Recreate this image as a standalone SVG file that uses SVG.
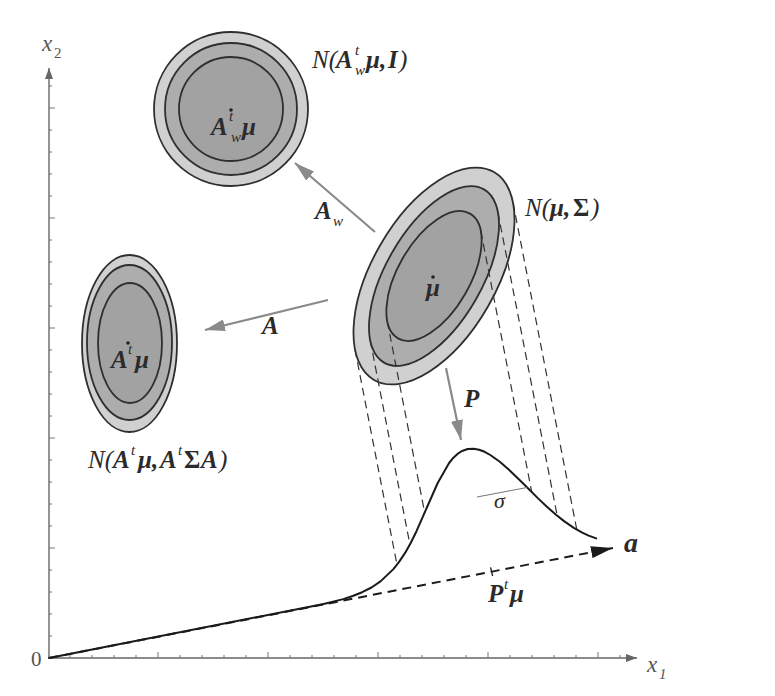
<svg xmlns="http://www.w3.org/2000/svg" width="775" height="696" viewBox="0 0 775 696">
<defs>
<style>
.ax{stroke:#666;stroke-width:1.4;fill:none}
.tk{stroke:#777;stroke-width:1}
.ring{stroke:#2f2f2f;stroke-width:1.8}
.c1{fill:#d0d0d0}.c2{fill:#adadad}.c3{fill:#a2a2a2}
.proj{stroke:#333;stroke-width:1.2;stroke-dasharray:8 5;fill:none}
.garrow{stroke:#8a8a8a;stroke-width:2.2;fill:none}
.t{font-family:"Liberation Serif","Times New Roman",serif;fill:#2b2b2b;font-size:25px}
.i{font-style:italic}
.bi{font-style:italic;font-weight:bold}
.b{font-weight:bold}
.s{font-size:15px;font-style:italic}
.axl{font-family:"Liberation Serif","Times New Roman",serif;fill:#555;font-style:italic;font-size:23px}
.dot{fill:#222}
</style>
<marker id="gh" markerWidth="20" markerHeight="12" refX="20" refY="6" orient="auto" markerUnits="userSpaceOnUse"><path d="M0,0 L20,6 L0,12 z" fill="#8a8a8a"/></marker>
<marker id="kh" markerWidth="22" markerHeight="12" refX="22" refY="6" orient="auto" markerUnits="userSpaceOnUse"><path d="M0,0 L22,6 L0,12 z" fill="#1a1a1a"/></marker>
<marker id="ah" markerWidth="11" markerHeight="8" refX="11" refY="4" orient="auto" markerUnits="userSpaceOnUse"><path d="M0,0 L11,4 L0,8 z" fill="#666"/></marker>
</defs>
<rect width="775" height="696" fill="#ffffff"/>

<g id="axes">
<line class="ax" x1="49" y1="658" x2="49" y2="68" marker-end="url(#ah)"/>
<line class="ax" x1="49" y1="658" x2="637" y2="658" marker-end="url(#ah)"/>
<path class="tk" d="M49,636h3M49,614h3M49,592h3M49,570h3M49,548h6M49,526h3M49,504h3M49,482h3M49,460h3M49,438h6M49,416h3M49,394h3M49,372h3M49,350h3M49,328h6M49,306h3M49,284h3M49,262h3M49,240h3M49,218h6M49,196h3M49,174h3M49,152h3M49,130h3M49,108h6M49,86h3"/>
<path class="tk" d="M70,658v-3M92,658v-3M114,658v-3M136,658v-3M158,658v-6M180,658v-3M202,658v-3M224,658v-3M246,658v-3M268,658v-6M290,658v-3M312,658v-3M334,658v-3M356,658v-3M378,658v-6M400,658v-3M422,658v-3M444,658v-3M466,658v-3M488,658v-6M510,658v-3M532,658v-3M554,658v-3M576,658v-3M598,658v-6M620,658v-3"/>
<text class="axl" x="42" y="51">x</text><text class="axl" x="54" y="58" style="font-size:15px;font-style:normal">2</text>
<text class="axl" x="647" y="672">x</text><text class="axl" x="659" y="679" style="font-size:15px">1</text>
<text class="axl" x="31" y="666" style="font-style:normal;font-size:21px">0</text>
</g>

<g id="node-Aw">
<circle class="ring c1" cx="231" cy="109" r="77"/>
<circle class="ring c2" cx="231" cy="109" r="66"/>
<circle class="ring c3" cx="231" cy="109" r="52"/>
<circle class="dot" cx="231" cy="110" r="1.8"/>
<text class="t bi" x="211" y="135">A</text><text class="t s" x="229" y="121">t</text><text class="t s" x="231" y="142">w</text><text class="t bi" x="242" y="135">μ</text>
<text class="t" y="68"><tspan class="i" x="312">N(</tspan><tspan class="bi" x="336">A</tspan><tspan class="s" x="355" y="55">t</tspan><tspan class="s" x="355" y="75">w</tspan><tspan class="bi" x="366" y="68">μ,</tspan><tspan class="bi" x="388">I</tspan><tspan class="i" x="399">)</tspan></text>
</g>

<g id="node-A">
<ellipse class="ring c1" cx="129.5" cy="343.5" rx="47.5" ry="88.5"/>
<ellipse class="ring c2" cx="129.5" cy="342.5" rx="42.5" ry="77.5"/>
<ellipse class="ring c3" cx="130" cy="343" rx="32" ry="60"/>
<circle class="dot" cx="128" cy="343" r="1.8"/>
<text class="t bi" x="111" y="368">A</text><text class="t s" x="128" y="354">t</text><text class="t bi" x="135" y="368">μ</text>
<text class="t" y="468"><tspan class="i" x="88">N(</tspan><tspan class="bi" x="113">A</tspan><tspan class="s" x="131" y="455">t</tspan><tspan class="bi" x="138" y="468">μ,</tspan><tspan class="bi" x="160">A</tspan><tspan class="s" x="178" y="455">t</tspan><tspan class="b" x="184" y="468">Σ</tspan><tspan class="bi" x="201">A</tspan><tspan class="i" x="219">)</tspan></text>
</g>

<g id="node-orig">
<g transform="translate(434 276) rotate(-60)">
<ellipse class="ring c1" rx="120" ry="62"/>
<ellipse class="ring c2" rx="100" ry="48"/>
<ellipse class="ring c3" rx="72" ry="36"/>
</g>
<circle class="dot" cx="433" cy="277" r="1.8"/>
<text class="t bi" x="426" y="296">μ</text>
<text class="t" y="216"><tspan class="i" x="525">N(</tspan><tspan class="bi" x="550">μ,</tspan><tspan class="b" x="573">Σ</tspan><tspan class="i" x="591">)</tspan></text>
</g>

<g id="projections">
<line class="proj" x1="355" y1="349.5" x2="397" y2="564.8"/>
<line class="proj" x1="370.2" y1="340.2" x2="409.9" y2="544.4"/>
<line class="proj" x1="387.2" y1="321.1" x2="424.7" y2="512.8"/>
<line class="proj" x1="480.8" y1="230.9" x2="531.7" y2="491.9"/>
<line class="proj" x1="497.8" y1="211.8" x2="557.2" y2="515.7"/>
<line class="proj" x1="513" y1="202.5" x2="576.8" y2="529.7"/>
</g>

<g id="node-density">
<path d="M49,658 L323.7,604.0 L343.2,599.1 L352.7,596.0 L362.2,592.2 L371.5,587.5 L380.5,581.4 L393.4,569.1 L399.1,561.9 L405.4,552.4 L410.7,543.0 L416.5,531.2 L427.1,507.0 L437.7,483.0 L449.1,463.0 L453.2,457.9 L457.5,453.9 L462.0,451.0 L467.7,449.0 L473.8,448.7 L479.1,449.7 L484.6,451.8 L490.3,455.0 L499.8,461.8 L508.4,469.2 L518.3,478.7 L527.2,487.5 L537.3,497.6 L546.1,506.0 L556.0,514.7 L564.4,521.4 L573.8,527.8 L581.8,532.4 L588.6,535.6 L596.2,538.4" fill="none" stroke="#1a1a1a" stroke-width="2" stroke-linejoin="round" stroke-linecap="round"/>
<line x1="477" y1="497" x2="527" y2="487.5" stroke="#777" stroke-width="1"/>
<text class="t i" x="494" y="508" style="font-size:22px">σ</text>
<line x1="49" y1="658" x2="613" y2="548" stroke="#1a1a1a" stroke-width="2" stroke-dasharray="9 6" marker-end="url(#kh)"/>
<line x1="490.6" y1="567.4" x2="492.6" y2="576" stroke="#1a1a1a" stroke-width="1.3"/>
<text class="t bi" x="624" y="552" style="font-size:28px">a</text>
<text class="t bi" x="488" y="602">P</text><text class="t s" x="504" y="589">t</text><text class="t bi" x="510" y="602">μ</text>
</g>

<g id="connectors">
<line class="garrow" x1="375" y1="232" x2="295" y2="163" marker-end="url(#gh)"/>
<line class="garrow" x1="328" y1="300" x2="205" y2="330" marker-end="url(#gh)"/>
<line class="garrow" x1="446" y1="368" x2="461" y2="440" marker-end="url(#gh)"/>
<text class="t bi" x="315" y="219">A</text><text class="t s" x="333" y="226">w</text>
<text class="t bi" x="262" y="334">A</text>
<text class="t bi" x="464" y="407">P</text>
</g>
</svg>
